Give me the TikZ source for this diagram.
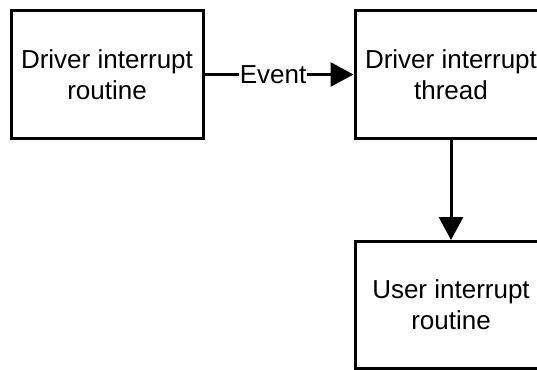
\documentclass[tikz,border=0pt]{standalone}
\usepackage{fontspec}
\setmainfont{Liberation Sans}
\usetikzlibrary{arrows.meta}
\tikzstyle{arrow} = [line width=3pt,-{Triangle[length=23pt,width=24pt]}]

\begin{document}
\begin{tikzpicture}
        [
            x=1pt, y=1pt,
            box/.style={rectangle,draw=black,line width=3pt,minimum width=192pt,minimum height=127pt,align=center,font=\fontsize{26}{31}\selectfont},
            lbl/.style={fill=white,inner sep=1pt,font=\fontsize{26}{31}\selectfont},
        ]
    \useasboundingbox (0,0) rectangle (537,-369);

    \node[box] (drvisr) at (107,-74.5){Driver interrupt\\routine};
    \node[box] (drvist) at (451,-74.5){Driver interrupt\\thread};
    \node[box] (usrisr) at (451,-305){User interrupt\\routine};

    \draw[arrow] (drvisr) -- node[lbl,pos=0.46]{Event} (drvist);
    \draw[arrow] (drvist) -- (usrisr);
\end{tikzpicture}
\end{document}
